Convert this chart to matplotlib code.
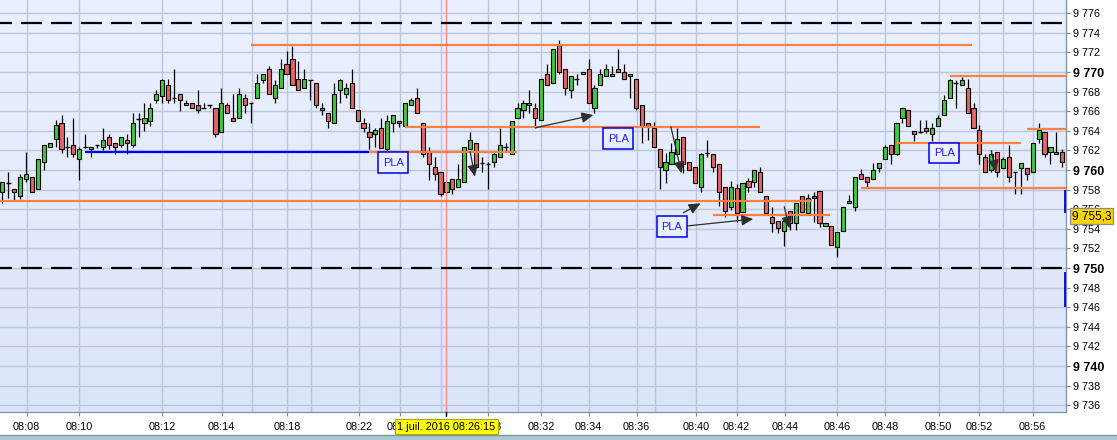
import matplotlib
matplotlib.use("Agg")
import matplotlib.pyplot as plt
import numpy as np
from matplotlib.patches import Rectangle
from matplotlib.lines import Line2D
import matplotlib.transforms as mtransforms

plt.rcParams['font.family'] = ['Liberation Sans', 'DejaVu Sans']

# ---------------- data ----------------
opens = [9757.8, 9758.65, 9758.1, 9757.3, 9759.05, 9759.25, 9758.1, 9760.8, 9762.3, 9763.15,
         9764.75, 9762.35, 9762.6, 9761.1, 9762.35, 9762.1, 9762.6, 9762.3, 9763.35, 9762.8,
         9762.6, 9763.1, 9762.6, 9765.2, 9764.75, 9765.0, 9767.1, 9767.6, 9768.65, 9767.3,
         9767.8, 9766.8, 9766.8, 9766.6, 9766.3, 9766.6, 9766.3, 9763.85, 9766.6, 9765.3,
         9765.3, 9767.3, 9766.8, 9767.3, 9769.2, 9770.3, 9767.3, 9768.35, 9770.8, 9771.3,
         9769.3, 9768.35, 9769.2, 9768.85, 9766.3, 9765.8, 9764.75, 9768.15, 9767.8, 9768.85,
         9766.1, 9764.75, 9763.85, 9763.65, 9764.3, 9762.1, 9764.75, 9765.05, 9764.5, 9766.6,
         9767.3, 9764.75, 9761.85, 9760.3, 9759.75, 9757.8, 9759.05, 9758.3, 9758.8, 9762.1,
         9762.8, 9760.7, 9760.6, 9760.8, 9761.3, 9762.35, 9761.65, 9765.3, 9766.1, 9766.6,
         9766.3, 9765.1, 9769.8, 9768.85, 9772.75, 9770.3, 9768.15, 9769.3, 9769.8, 9770.3,
         9766.3, 9768.65, 9769.55, 9769.55, 9770.3, 9770.05, 9769.55, 9769.25, 9766.6, 9764.75,
         9764.25, 9762.1, 9760.05, 9760.6, 9761.6, 9763.35, 9760.8, 9760.3, 9758.3, 9761.75,
         9761.6, 9760.6, 9758.3, 9756.25, 9758.15, 9755.75, 9758.9, 9758.8, 9759.75, 9757.3,
         9755.25, 9754.8, 9753.8, 9755.8, 9754.55, 9757.3, 9755.6, 9757.35, 9757.85, 9754.3,
         9754.3, 9752.1, 9753.8, 9756.6, 9756.25, 9759.6, 9759.25, 9759.05, 9760.25, 9761.1,
         9762.6, 9761.65, 9765.3, 9766.1, 9764.0, 9763.9, 9764.3, 9763.65, 9764.5, 9765.6,
         9767.3, 9768.85, 9768.65, 9768.35, 9766.3, 9764.05, 9761.3, 9760.05, 9761.8, 9760.25,
         9761.3, 9759.75, 9760.25, 9760.25, 9759.75, 9763.15, 9763.85, 9761.8, 9761.8, 9761.8]
highs = [9758.8, 9759.75, 9758.1, 9759.6, 9761.8, 9759.25, 9761.1, 9762.6, 9762.8, 9765.1,
         9765.6, 9763.4, 9765.3, 9762.35, 9763.65, 9762.3, 9762.6, 9764.3, 9763.65, 9762.8,
         9763.35, 9763.65, 9765.8, 9765.8, 9766.8, 9766.8, 9768.15, 9769.3, 9769.3, 9770.3,
         9767.8, 9767.1, 9766.8, 9768.15, 9766.8, 9766.6, 9766.3, 9768.35, 9766.8, 9767.8,
         9768.35, 9767.8, 9766.8, 9769.8, 9769.8, 9770.6, 9769.2, 9771.3, 9772.15, 9772.65,
         9771.1, 9770.3, 9769.2, 9768.85, 9766.8, 9765.8, 9768.85, 9769.3, 9768.85, 9770.3,
         9766.1, 9765.3, 9764.75, 9764.3, 9765.3, 9765.6, 9765.6, 9765.05, 9766.8, 9767.3,
         9768.35, 9764.75, 9762.35, 9761.3, 9759.75, 9758.8, 9759.05, 9760.6, 9762.35, 9763.85,
         9762.8, 9761.3, 9760.8, 9761.85, 9764.3, 9762.8, 9765.05, 9766.8, 9767.1, 9768.15,
         9766.8, 9769.25, 9770.8, 9772.3, 9773.3, 9770.3, 9769.55, 9769.8, 9770.05, 9771.3,
         9768.65, 9770.3, 9770.8, 9770.6, 9772.3, 9770.8, 9769.8, 9769.25, 9766.6, 9764.75,
         9764.9, 9762.1, 9761.7, 9762.8, 9764.3, 9763.35, 9760.8, 9760.3, 9761.75, 9763.1,
         9761.6, 9760.6, 9758.3, 9758.9, 9758.6, 9758.65, 9759.2, 9760.05, 9760.35, 9757.3,
         9756.25, 9754.8, 9755.0, 9755.8, 9756.6, 9757.3, 9757.6, 9757.8, 9757.85, 9754.55,
         9754.3, 9753.65, 9756.25, 9757.45, 9759.25, 9760.1, 9759.25, 9760.75, 9760.75, 9762.6,
         9762.6, 9764.75, 9766.3, 9766.1, 9764.0, 9765.1, 9765.1, 9764.75, 9765.6, 9767.65,
         9769.3, 9769.15, 9769.45, 9769.3, 9766.8, 9764.55, 9761.65, 9762.05, 9761.8, 9761.35,
         9762.6, 9759.75, 9760.75, 9760.25, 9762.8, 9764.75, 9763.85, 9762.35, 9763.85, 9762.15]
lows = [9756.6, 9757.1, 9756.95, 9757.05, 9758.8, 9757.8, 9758.1, 9760.0, 9762.3, 9762.3,
        9761.7, 9761.3, 9761.3, 9759.0, 9762.2, 9761.3, 9762.2, 9762.0, 9762.1, 9761.6,
        9762.3, 9761.6, 9762.3, 9763.35, 9764.0, 9764.5, 9766.8, 9766.8, 9766.8, 9766.8,
        9766.0, 9766.6, 9766.3, 9765.8, 9766.3, 9766.3, 9763.35, 9763.85, 9765.8, 9765.0,
        9765.3, 9765.8, 9764.75, 9767.3, 9768.85, 9767.8, 9766.8, 9768.35, 9769.8, 9768.65,
        9768.15, 9768.35, 9767.1, 9766.3, 9765.6, 9764.3, 9764.75, 9766.8, 9767.3, 9766.3,
        9765.05, 9763.85, 9762.1, 9762.3, 9762.25, 9761.97, 9763.9, 9764.4, 9764.5, 9766.6,
        9765.8, 9761.3, 9759.0, 9759.0, 9757.3, 9757.5, 9757.55, 9758.3, 9758.8, 9762.1,
        9760.3, 9759.75, 9758.1, 9760.3, 9761.3, 9761.9, 9761.65, 9765.3, 9765.3, 9765.8,
        9764.3, 9765.1, 9768.65, 9768.85, 9769.8, 9767.65, 9767.3, 9768.65, 9769.8, 9766.8,
        9765.8, 9768.65, 9769.55, 9769.55, 9770.05, 9769.25, 9767.3, 9766.1, 9762.8, 9763.05,
        9762.3, 9758.1, 9758.65, 9760.6, 9761.6, 9759.65, 9760.05, 9758.65, 9757.8, 9761.35,
        9759.8, 9756.3, 9755.25, 9755.9, 9754.7, 9755.75, 9757.8, 9758.3, 9757.8, 9755.6,
        9753.7, 9753.55, 9752.25, 9753.9, 9753.9, 9755.75, 9755.6, 9754.7, 9754.2, 9754.3,
        9752.35, 9751.1, 9753.8, 9756.6, 9755.8, 9759.05, 9758.3, 9759.05, 9759.8, 9761.1,
        9760.6, 9761.55, 9764.75, 9764.5, 9763.0, 9763.75, 9763.75, 9763.0, 9764.5, 9765.6,
        9767.3, 9766.3, 9768.65, 9765.8, 9764.3, 9760.6, 9759.75, 9759.8, 9759.3, 9760.25,
        9758.8, 9757.6, 9757.6, 9759.0, 9759.75, 9762.8, 9761.35, 9760.6, 9761.65, 9760.3]
closes = [9758.8, 9758.65, 9757.8, 9759.25, 9759.6, 9757.8, 9761.1, 9762.6, 9762.8, 9764.55,
          9762.1, 9762.35, 9761.6, 9762.1, 9762.35, 9762.3, 9762.6, 9763.1, 9762.6, 9762.3,
          9763.35, 9762.8, 9764.75, 9765.2, 9765.3, 9766.3, 9767.8, 9769.2, 9767.1, 9767.3,
          9767.1, 9766.6, 9766.3, 9766.1, 9766.3, 9766.6, 9763.65, 9766.8, 9765.8, 9765.0,
          9767.8, 9766.6, 9766.8, 9768.85, 9769.8, 9767.8, 9768.65, 9770.3, 9769.8, 9768.65,
          9768.15, 9769.3, 9769.2, 9766.6, 9766.1, 9765.05, 9767.8, 9769.2, 9768.35, 9766.3,
          9765.05, 9764.3, 9763.35, 9764.05, 9762.25, 9765.05, 9765.6, 9764.75, 9766.8, 9767.1,
          9765.8, 9761.65, 9760.6, 9759.6, 9757.6, 9758.8, 9758.1, 9759.05, 9762.35, 9763.1,
          9760.3, 9760.7, 9760.6, 9761.6, 9762.6, 9762.35, 9765.05, 9766.3, 9766.8, 9766.8,
          9765.3, 9769.25, 9768.65, 9772.3, 9770.05, 9768.35, 9769.55, 9769.3, 9770.05, 9766.8,
          9768.35, 9769.8, 9770.3, 9769.8, 9770.05, 9769.25, 9769.8, 9766.3, 9764.5, 9764.5,
          9762.3, 9760.3, 9760.8, 9761.8, 9763.15, 9760.6, 9760.05, 9758.65, 9761.6, 9761.75,
          9760.35, 9757.8, 9755.85, 9758.3, 9755.6, 9758.65, 9758.3, 9760.05, 9757.8, 9755.6,
          9754.55, 9754.05, 9754.8, 9754.55, 9756.6, 9755.75, 9757.1, 9757.1, 9754.55, 9754.55,
          9752.35, 9753.65, 9756.25, 9756.85, 9759.25, 9759.05, 9758.8, 9760.05, 9760.75, 9762.35,
          9761.65, 9764.75, 9766.3, 9764.5, 9763.65, 9763.9, 9764.0, 9764.3, 9765.3, 9767.1,
          9769.15, 9768.85, 9769.15, 9765.8, 9764.3, 9761.65, 9759.75, 9761.65, 9759.75, 9761.1,
          9759.3, 9759.75, 9760.75, 9759.6, 9762.8, 9764.05, 9761.65, 9762.35, 9761.65, 9760.8]

# time axis (bar index of each time grid line)
time_pos = [4.1, 13.0, 27.0, 37.05, 42.1, 48.1, 52.1, 60.2, 67.2, 74.0, 82.1, 87.0, 91.0,
            99.0, 107.1, 110.2, 117.1, 124.0, 132.2, 141.0, 149.1, 158.1, 165.0, 169.0, 174.0]
time_lbl = ['08:08', '08:10', '08:12', '08:14', '', '08:18', '', '08:22', '08:24', '', '08:28',
            '', '08:32', '08:34', '08:36', '', '08:40', '08:42', '08:44', '08:46', '08:48',
            '08:50', '08:52', '', '08:56']

# horizontal levels: (price, start index, end index)
orange_levels = [(9772.8, 42.0, 163.7), (9756.85, -0.4, 136.7), (9755.45, 120.0, 139.8),
                 (9764.35, 68.0, 127.95), (9761.85, 61.9, 86.9), (9769.6, 160.0, 179.7),
                 (9764.2, 173.0, 179.7), (9762.8, 150.9, 172.0), (9758.15, 145.0, 179.7)]
blue_levels = [(9761.85, 14.0, 61.9)]
dashed_levels = [9775.0, 9750.0]

# arrows: (start index, start price, end index, end price)
arrows = [(90.07, 9764.32, 99.8, 9765.61), (79.0, 9761.87, 79.8, 9759.32),
          (112.9, 9764.42, 114.7, 9759.66), (115.0, 9755.64, 117.9, 9756.6),
          (115.6, 9754.29, 126.8, 9755.0), (132.05, 9756.26, 132.9, 9754.05),
          (167.0, 9761.97, 167.8, 9759.83)]

# PLA boxes: (x0, x1, y_low, y_high)
pla_boxes = [(63.5, 68.56, 9759.66, 9761.81), (101.5, 106.55, 9762.11, 9764.26),
             (110.5, 115.57, 9753.13, 9755.3), (156.5, 161.6, 9760.68, 9762.79)]

cursor_pos = 75.0
cursor_text = '1 juil. 2016 08:26:15'
last_price_text = '9 755,3'
last_price = 9755.3
ytick_vals = list(range(9736, 9777, 2))

# ---------------- figure ----------------
W, H = 1117, 440
fig = plt.figure(figsize=(W / 100, H / 100), dpi=100)
fig.patch.set_facecolor('white')
ax = fig.add_axes([0, (H - 412) / H, 1066 / W, 412 / H])
XL = (-0.39, 179.62)
YL = (9735.31, 9777.35)
ax.set_xlim(*XL)
ax.set_ylim(*YL)

# gradient background
top = np.array([234, 240, 255]) / 255
bot = np.array([219, 229, 249]) / 255
t = np.linspace(0, 1, 256)[:, None]
grad = (top[None, :] * (1 - t) + bot[None, :] * t)[:, None, :]
ax.imshow(grad, extent=[XL[0], XL[1], YL[0], YL[1]], aspect='auto', zorder=0,
          interpolation='bilinear')

# grid / ticks
gridc = '#BCC6DC'
ax.set_yticks(ytick_vals)
ax.yaxis.tick_right()
ax.set_yticklabels([f"{v // 1000} {v % 1000:03d}" for v in ytick_vals])
for lbl, v in zip(ax.get_yticklabels(), ytick_vals):
    if v % 10 == 0:
        lbl.set_fontweight('bold')
        lbl.set_fontsize(9)
    else:
        lbl.set_fontsize(7.8)
ax.tick_params(axis='y', which='major', length=3, width=0.8, color='#7F8C9E', pad=2,
               labelcolor='black')

maj_pos = [p for p, s in zip(time_pos, time_lbl) if s]
maj_lbl = [s for s in time_lbl if s]
min_pos = [p for p, s in zip(time_pos, time_lbl) if not s]
ax.set_xticks(maj_pos)
ax.set_xticklabels(maj_lbl, fontsize=7.8)
ax.set_xticks(min_pos, minor=True)
ax.tick_params(axis='x', which='major', length=3, width=0.8, color='#7F8C9E', pad=4)
ax.tick_params(axis='x', which='minor', length=0)
ax.grid(True, which='both', color=gridc, linewidth=1.0)
ax.set_axisbelow(True)

for s in ['top', 'left']:
    ax.spines[s].set_visible(False)
for s in ['bottom', 'right']:
    ax.spines[s].set_color('#8694AA')
    ax.spines[s].set_linewidth(1.0)

# candles
o = np.array(opens); h = np.array(highs); l = np.array(lows); c = np.array(closes)
x = np.arange(len(o))
up = c > o
dn = c < o
dj = c == o
GREEN = '#3FCB3F'
RED = '#E36666'
ax.vlines(x, l, h, color='black', linewidth=0.9, zorder=3)
ax.bar(x[up], (c - o)[up], bottom=o[up], width=0.70, color=GREEN, edgecolor='black',
       linewidth=0.8, zorder=4)
ax.bar(x[dn], (o - c)[dn], bottom=c[dn], width=0.70, color=RED, edgecolor='black',
       linewidth=0.8, zorder=4)
ax.hlines(o[dj], x[dj] - 0.40, x[dj] + 0.40, color='black', linewidth=1.0, zorder=4)

# cursor line
ax.axvline(cursor_pos, color='#FF8A8A', linewidth=1.0, zorder=5)

# levels
for p, x0, x1 in orange_levels:
    ax.plot([x0, x1], [p, p], color='#FF8040', linewidth=1.6, zorder=6,
            solid_capstyle='butt')
for p, x0, x1 in blue_levels:
    ax.plot([x0, x1], [p, p], color='#0000F0', linewidth=1.6, zorder=6,
            solid_capstyle='butt')
LW_D = 1.6
for p in dashed_levels:
    ax.plot([XL[0], 179.1], [p, p], color='black', linewidth=LW_D, zorder=6,
            solid_capstyle='butt', dash_capstyle='butt',
            linestyle=(6.5 / LW_D, (15.1 / LW_D, 6.5 / LW_D)))

# arrows
for x0, y0, x1, y1 in arrows:
    ax.annotate('', xy=(x1, y1), xytext=(x0, y0),
                arrowprops=dict(arrowstyle='-|>,head_length=0.7,head_width=0.32',
                                color='#2E2E2E', lw=0.9, shrinkA=0, shrinkB=0,
                                mutation_scale=10), zorder=7)

# PLA boxes
for x0, x1, y0, y1 in pla_boxes:
    ax.add_patch(Rectangle((x0, y0), x1 - x0, y1 - y0, facecolor='#E9EFFD',
                           edgecolor='#0000E6', linewidth=1.1, zorder=8))
    ax.text((x0 + x1) / 2, (y0 + y1) / 2, 'PLA', ha='center', va='center',
            color='#2424E6', fontsize=8, zorder=9)

# blue marks at right edge
ax.vlines([179.4, 179.4], [9755.6, 9746.0], [9757.96, 9749.6], color='#0000CC',
          linewidth=1.3, zorder=7, clip_on=False)

# cursor tick on x axis
trans = mtransforms.blended_transform_factory(ax.transData, ax.transAxes)
ax.add_line(Line2D([cursor_pos, cursor_pos], [0, -4 / 412], transform=trans, color='black',
                   linewidth=1.0, clip_on=False, zorder=10))

# cursor date box
fig.text(446.6 / W, 1 - 426.5 / H, cursor_text, ha='center', va='center', fontsize=7.8,
         color='black', zorder=20,
         bbox=dict(boxstyle='square,pad=0.22', facecolor='#FFFF00', edgecolor='#A8A800',
                   linewidth=0.8))

# last price box
yp = ax.transData.transform((0, last_price))[1]
fig.text(1071.5 / W, yp / H, last_price_text, ha='left', va='center', fontsize=8.6,
         color='black', zorder=20,
         bbox=dict(boxstyle='square,pad=0.15', facecolor='#F9D500', edgecolor='#8A8A8A',
                   linewidth=0.9))

# bottom strip
fig.add_artist(Rectangle((0, 0), 1, 5.5 / H, transform=fig.transFigure, facecolor='#A9C9D4',
                         edgecolor='none', zorder=1))
fig.add_artist(Line2D([0, 1], [5.5 / H, 5.5 / H], transform=fig.transFigure,
                      color='#7C95A4', linewidth=1.0, zorder=2))

fig.savefig('out.png', dpi=100, facecolor='white')
